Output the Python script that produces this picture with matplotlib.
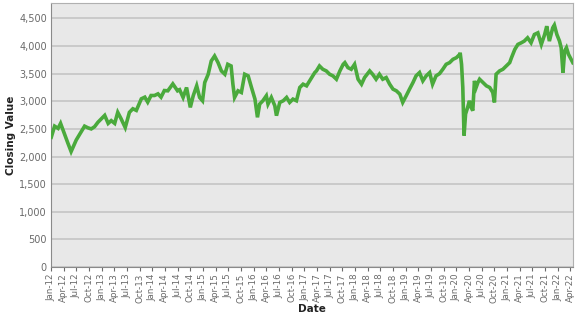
import matplotlib
matplotlib.use("Agg")
import matplotlib.pyplot as plt
import matplotlib.dates as mdates
import matplotlib.ticker as mticker
import pandas as pd

# ─── Data ─────────────────────────────────────────────────────────────────────
dates = [
    "2012-01-03", "2012-01-27", "2012-02-21", "2012-03-10", "2012-04-08", "2012-05-02",
    "2012-05-25", "2012-07-01", "2012-08-06", "2012-08-30", "2012-09-23", "2012-10-17",
    "2012-11-10", "2012-12-04", "2012-12-28", "2013-01-22", "2013-02-16", "2013-03-10",
    "2013-04-04", "2013-04-26", "2013-05-19", "2013-06-19", "2013-07-19", "2013-08-13",
    "2013-09-07", "2013-10-13", "2013-11-07", "2013-11-28", "2013-12-22", "2014-01-16",
    "2014-02-10", "2014-03-04", "2014-03-28", "2014-04-22", "2014-05-28", "2014-07-01",
    "2014-07-16", "2014-08-10", "2014-09-04", "2014-10-01", "2014-10-22", "2014-11-16",
    "2014-12-07", "2014-12-28", "2015-01-13", "2015-02-07", "2015-03-01", "2015-03-25",
    "2015-04-19", "2015-05-13", "2015-06-07", "2015-06-28", "2015-07-22", "2015-08-04",
    "2015-08-16", "2015-09-10", "2015-10-04", "2015-10-28", "2015-11-22", "2015-12-16",
    "2016-01-10", "2016-01-28", "2016-02-13", "2016-03-07", "2016-04-01", "2016-04-13",
    "2016-05-07", "2016-06-01", "2016-06-13", "2016-07-07", "2016-08-01", "2016-08-25",
    "2016-09-16", "2016-10-10", "2016-11-04", "2016-11-28", "2016-12-22", "2017-01-16",
    "2017-02-22", "2017-03-16", "2017-03-28", "2017-04-19", "2017-05-13", "2017-06-07",
    "2017-07-01", "2017-07-25", "2017-08-19", "2017-09-13", "2017-10-07", "2017-10-19",
    "2017-11-10", "2017-12-04", "2017-12-28", "2018-01-22", "2018-02-16", "2018-03-10",
    "2018-04-16", "2018-05-07", "2018-06-01", "2018-06-25", "2018-07-19", "2018-08-13",
    "2018-09-07", "2018-10-01", "2018-10-25", "2018-11-19", "2018-12-10", "2019-01-04",
    "2019-01-28", "2019-02-22", "2019-03-16", "2019-04-10", "2019-05-04", "2019-05-28",
    "2019-06-22", "2019-07-13", "2019-08-07", "2019-09-01", "2019-09-25", "2019-10-19",
    "2019-11-13", "2019-12-07", "2020-01-01", "2020-01-25", "2020-01-28", "2020-02-07",
    "2020-02-16", "2020-02-25", "2020-03-07", "2020-03-22", "2020-04-04", "2020-04-16",
    "2020-04-28", "2020-05-10", "2020-05-22", "2020-06-04", "2020-06-16", "2020-07-10",
    "2020-08-04", "2020-08-28", "2020-09-19", "2020-10-01", "2020-10-13", "2020-11-07",
    "2020-12-01", "2020-12-25", "2021-01-19", "2021-02-01", "2021-02-25", "2021-03-19",
    "2021-04-13", "2021-05-04", "2021-05-28", "2021-06-22", "2021-07-16", "2021-08-10",
    "2021-09-04", "2021-09-28", "2021-10-13", "2021-11-01", "2021-11-25", "2021-12-07",
    "2021-12-25", "2022-01-13", "2022-01-25", "2022-02-07", "2022-02-19", "2022-03-04",
    "2022-03-19", "2022-04-07", "2022-04-19",
]
closing = [
    2350, 2550, 2510, 2600, 2400, 2240,
    2090, 2300, 2450, 2550, 2520, 2500,
    2540, 2620, 2680, 2745, 2600, 2650,
    2600, 2800, 2690, 2525, 2800, 2865,
    2835, 3045, 3075, 2985, 3105, 3105,
    3135, 3075, 3195, 3190, 3315, 3190,
    3210, 3070, 3250, 2890, 3100, 3280,
    3070, 3010, 3340, 3490, 3730, 3820,
    3700, 3550, 3490, 3670, 3640, 3310,
    3070, 3190, 3160, 3490, 3460, 3250,
    3040, 2710, 2950, 3010, 3100, 2950,
    3070, 2920, 2740, 2980, 3010, 3070,
    2980, 3040, 3010, 3250, 3310, 3280,
    3430, 3520, 3550, 3640, 3580, 3550,
    3490, 3460, 3400, 3550, 3670, 3700,
    3610, 3580, 3670, 3400, 3310, 3430,
    3550, 3490, 3400, 3490, 3400, 3430,
    3310, 3220, 3190, 3130, 2980, 3100,
    3220, 3340, 3460, 3520, 3370, 3460,
    3520, 3310, 3460, 3500, 3580, 3670,
    3700, 3760, 3790, 3850, 3880, 3670,
    3250, 2380, 2770, 2890, 3010, 2890,
    2830, 3370, 3250, 3340, 3400, 3340,
    3280, 3250, 3160, 2980, 3490, 3550,
    3580, 3640, 3700, 3790, 3940, 4030,
    4060, 4090, 4150, 4060, 4210, 4240,
    4030, 4210, 4360, 4090, 4330, 4380,
    4210, 4090, 3970, 3520, 3910, 3970,
    3850, 3760, 3700,
]

y_ticks = list(range(0, 5000, 500))

# ─── Plot ─────────────────────────────────────────────────────────────────────
fig = plt.figure(figsize=(5.77, 3.15), dpi=100, facecolor="white")
ax = fig.add_axes([0.0884, 0.1524, 0.9046, 0.8381])
ax.set_facecolor("#e8e8e8")

ax.plot(pd.to_datetime(dates), closing, color="#4aaa3c", linewidth=2.6,
        solid_joinstyle="miter", zorder=3)

ax.set_ylim(0, 4780)
ax.set_yticks(y_ticks)
ax.yaxis.set_major_formatter(mticker.FuncFormatter(lambda v, _: f"{int(v):,}"))
ax.grid(axis="y", color="#c4c4c4", linewidth=1.2)
ax.set_axisbelow(True)

ax.set_xlim(pd.Timestamp("2012-01-01"), pd.Timestamp("2022-04-20"))
ax.xaxis.set_major_locator(mdates.MonthLocator(bymonth=[1, 4, 7, 10]))
ax.xaxis.set_major_formatter(mdates.DateFormatter("%b-%y"))
plt.setp(ax.get_xticklabels(), rotation=90)

ax.tick_params(axis="both", colors="#6a6a6a", length=3, width=0.8)
ax.tick_params(axis="x", labelsize=6.3, pad=1.5)
ax.tick_params(axis="y", labelsize=7, length=0, pad=3)

for side in ["left", "bottom"]:
    ax.spines[side].set_color("#8a8a8a")
for side in ["top", "right"]:
    ax.spines[side].set_color("#b0b0b0")

ax.set_ylabel("Closing Value", fontsize=7.5, fontweight="bold", color="#222222", labelpad=2)
ax.set_xlabel("Date", fontsize=7.5, fontweight="bold", color="#222222", labelpad=1)

fig.savefig("out.png", dpi=100, facecolor="white")
plt.close(fig)
